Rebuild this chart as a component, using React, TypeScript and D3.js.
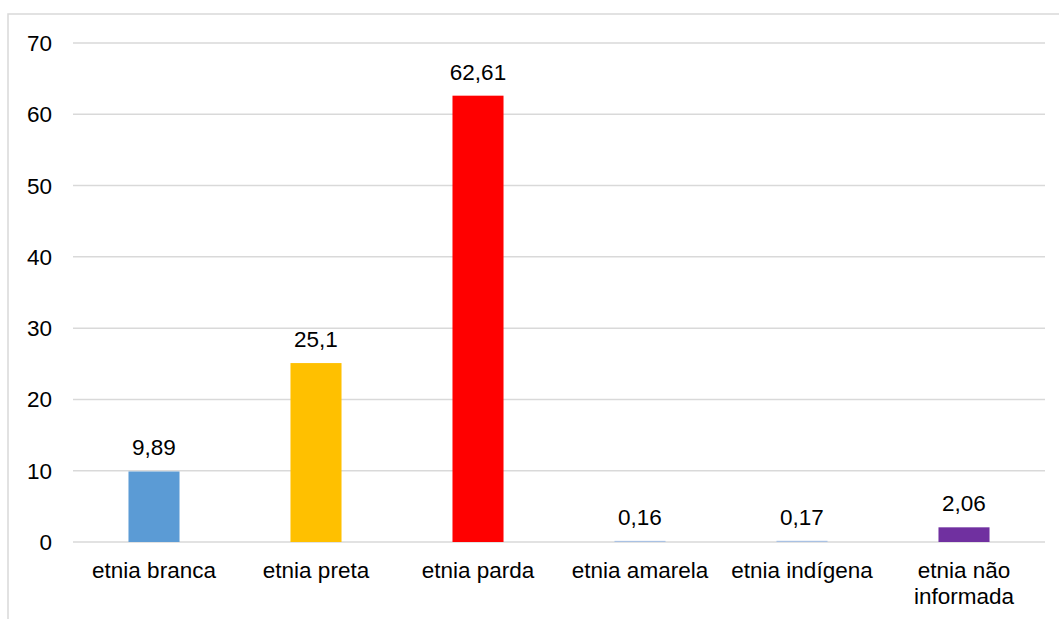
import React from "react";
import * as d3 from "d3";

const categories: string[][] = [
  ["etnia branca"],
  ["etnia preta"],
  ["etnia parda"],
  ["etnia amarela"],
  ["etnia indígena"],
  ["etnia não", "informada"],
];
const values: number[] = [9.89, 25.1, 62.61, 0.16, 0.17, 2.06];
const valueLabels: string[] = ["9,89", "25,1", "62,61", "0,16", "0,17", "2,06"];
const colors: string[] = ["#5B9BD5", "#FFC000", "#FF0000", "#A9C1E3", "#A9C1E3", "#7030A0"];
const yTicks: number[] = [0, 10, 20, 30, 40, 50, 60, 70];

export default function App() {
  const W = 1059;
  const H = 619;
  const left = 73;
  const right = 1045;
  const top = 43;
  const bottom = 542;
  const font = "'Liberation Sans', Arial, sans-serif";
  const fs = 22.5;

  const x = d3
    .scaleBand<number>()
    .domain(values.map((_, i) => i))
    .range([left, right])
    .paddingInner(0.685)
    .paddingOuter(0.3425);
  const y = d3.scaleLinear().domain([0, 70]).range([bottom, top]);

  return (
    <svg
      width={W}
      height={H}
      style={{ position: "absolute", left: 0, top: 0, background: "#fff" }}
    >
      <rect x={0} y={0} width={W} height={H} fill="#fff" />
      <rect x={8} y={14} width={W + 20} height={H + 20} fill="none" stroke="#d9d9d9" strokeWidth={1.5} />
      {yTicks.map((t) => (
        <g key={t}>
          <line x1={left} x2={right} y1={y(t)} y2={y(t)} stroke="#d9d9d9" strokeWidth={1.5} />
          <text
            x={52}
            y={y(t) + 8}
            textAnchor="end"
            fontFamily={font}
            fontSize={fs}
            fill="#000"
          >
            {t}
          </text>
        </g>
      ))}
      {values.map((v, i) => {
        const bx = x(i)!;
        const bw = x.bandwidth();
        const cx = bx + bw / 2;
        return (
          <g key={i}>
            <rect x={bx} y={y(v)} width={bw} height={bottom - y(v)} fill={colors[i]} />
            <text
              x={cx}
              y={y(v) - 16}
              textAnchor="middle"
              fontFamily={font}
              fontSize={fs}
              fill="#000"
            >
              {valueLabels[i]}
            </text>
            {categories[i].map((line, j) => (
              <text
                key={j}
                x={cx}
                y={578 + j * 26}
                textAnchor="middle"
                fontFamily={font}
                fontSize={fs}
                fill="#000"
              >
                {line}
              </text>
            ))}
          </g>
        );
      })}
    </svg>
  );
}
